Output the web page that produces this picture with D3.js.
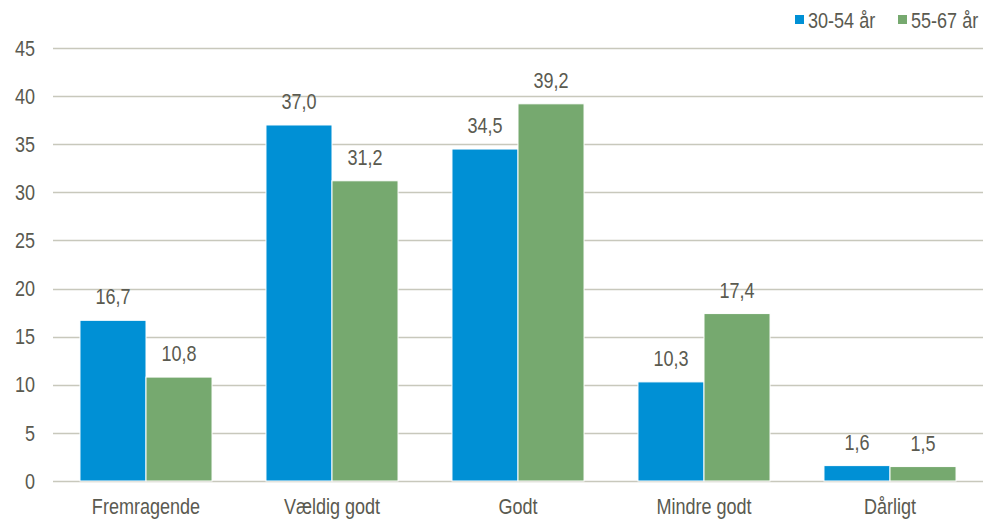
<!DOCTYPE html>
<html>
  <head>
    <meta charset="utf-8">
    <style>
    body { margin: 0; background: #fff; }
    text { font-family: "Liberation Sans", Arial, sans-serif; fill: #5a5a50; font-size: 22px; }
    .grid line { stroke: #c8c8bc; stroke-width: 1.3px; }
    </style>
  </head>
  <body>
    <script src="https://d3js.org/d3.v7.min.js"></script>
    <script>

    var categories = ["Fremragende", "Vældig godt", "Godt", "Mindre godt", "Dårligt"];
    var seriesNames = ["30-54 år", "55-67 år"];
    var young = [16.7, 37.0, 34.5, 10.3, 1.6];
    var old = [10.8, 31.2, 39.2, 17.4, 1.5];
    var yTicks = [0, 5, 10, 15, 20, 25, 30, 35, 40, 45];
    var colors = ["#0090d5", "#76a96f"];

    var width = 987, height = 519;
    var margin = {top: 48, right: 4, bottom: 38, left: 53};
    var narrow = 0.82; // squeeze to mimic a narrow face

    function place(xf, yf) {
      return function(d, i) {
        return "translate(" + xf(d, i) + "," + yf(d, i) + ") scale(" + narrow + ",1)";
      };
    }

    var svg = d3.select("body").append("svg")
        .attr("width", width)
        .attr("height", height);

    var x = d3.scaleBand()
        .domain(categories)
        .range([margin.left, width - margin.right])
        .paddingInner(0.29)
        .paddingOuter(0.145);

    var x1 = d3.scaleBand()
        .domain([0, 1])
        .range([0, x.bandwidth()]);

    var y = d3.scaleLinear()
        .domain([0, 45])
        .range([height - margin.bottom, margin.top]);

    // gridlines
    svg.append("g")
        .attr("class", "grid")
      .selectAll("line")
      .data(yTicks)
      .enter().append("line")
        .attr("x1", margin.left)
        .attr("x2", width - margin.right)
        .attr("y1", function(d) { return Math.round(y(d)) + 0.5; })
        .attr("y2", function(d) { return Math.round(y(d)) + 0.5; });

    // y labels
    svg.append("g")
      .selectAll("text")
      .data(yTicks)
      .enter().append("text")
        .attr("transform", place(function() { return 35; }, function(d) { return y(d); }))
        .attr("dy", "0.35em")
        .attr("text-anchor", "end")
        .text(function(d) { return d; });

    var rows = categories.map(function(c, i) {
      return {cat: c, vals: [young[i], old[i]]};
    });

    var groups = svg.append("g")
      .selectAll("g")
      .data(rows)
      .enter().append("g")
        .attr("transform", function(d) { return "translate(" + x(d.cat) + ",0)"; });

    groups.selectAll("rect")
      .data(function(d) { return d.vals; })
      .enter().append("rect")
        .attr("x", function(d, i) { return x1(i); })
        .attr("y", function(d) { return y(d); })
        .attr("width", x1.bandwidth())
        .attr("height", function(d) { return y(0) - y(d); })
        .attr("fill", function(d, i) { return colors[i]; })
        .attr("stroke", "#fff")
        .attr("stroke-width", 1);

    groups.selectAll("text.val")
      .data(function(d) { return d.vals; })
      .enter().append("text")
        .attr("class", "val")
        .attr("transform", place(
          function(d, i) { return x1(i) + x1.bandwidth() / 2; },
          function(d) { return y(d) - 16; }))
        .attr("text-anchor", "middle")
        .text(function(d) { return d.toFixed(1).replace(".", ","); });

    // x labels
    svg.append("g")
      .selectAll("text")
      .data(categories)
      .enter().append("text")
        .attr("transform", place(
          function(d) { return x(d) + x.bandwidth() / 2; },
          function() { return 514; }))
        .attr("text-anchor", "middle")
        .text(function(d) { return d; });

    // legend
    var legendX = [795, 898];
    var legend = svg.append("g")
      .selectAll("g")
      .data(seriesNames)
      .enter().append("g")
        .attr("transform", function(d, i) { return "translate(" + legendX[i] + ",0)"; });

    legend.append("rect")
        .attr("x", 0)
        .attr("y", 15)
        .attr("width", 9)
        .attr("height", 9)
        .attr("fill", function(d, i) { return colors[i]; });

    legend.append("text")
        .attr("transform", place(function() { return 13; }, function() { return 28; }))
        .text(function(d) { return d; });

    </script>
  </body>
</html>
